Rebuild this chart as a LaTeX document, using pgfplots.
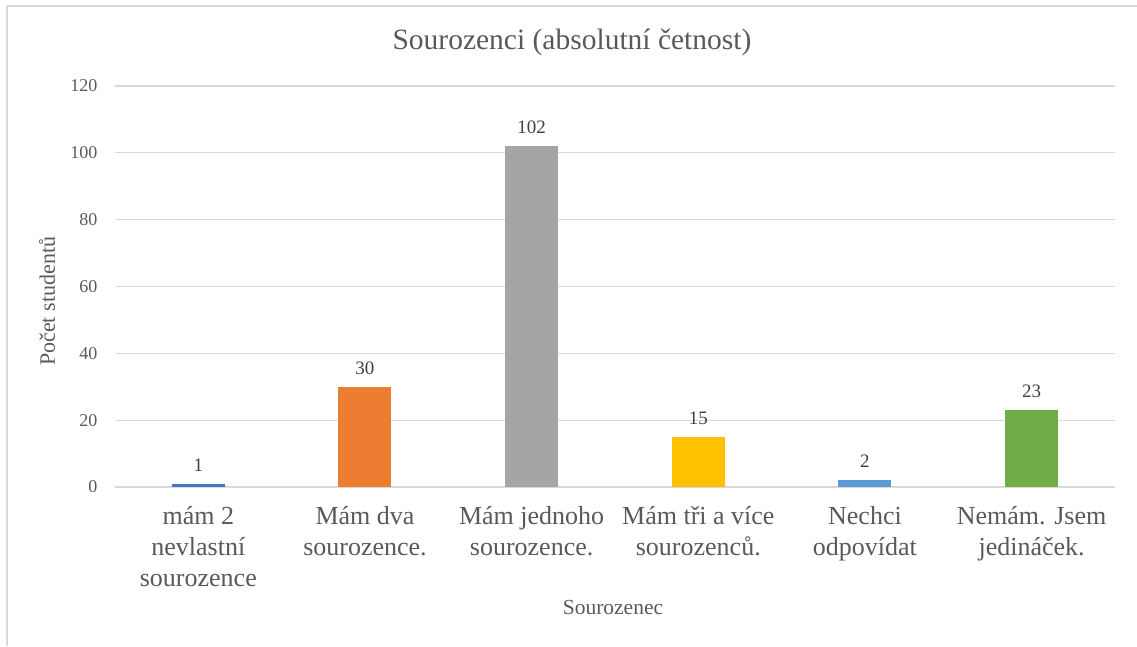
\documentclass[border=0pt]{standalone}
\usepackage{fontspec}
\setmainfont{Liberation Serif}
\usepackage{pgfplots}
\pgfplotsset{compat=1.18}
\definecolor{txt}{HTML}{595959}
\definecolor{gridc}{HTML}{D9D9D9}
\definecolor{c1}{HTML}{4472C4}
\definecolor{c2}{HTML}{ED7D31}
\definecolor{c3}{HTML}{A5A5A5}
\definecolor{c4}{HTML}{FFC000}
\definecolor{c5}{HTML}{5B9BD5}
\definecolor{c6}{HTML}{70AD47}
\begin{document}
\begin{tikzpicture}[x=1pt,y=1pt]
\useasboundingbox (0,0) rectangle (1137,646);
\draw[gridc, line width=1.5pt] (7,0) -- (7,640) -- (1137,640);
\begin{axis}[
  at={(115pt,159pt)}, anchor=south west,
  width=1000pt, height=401pt, scale only axis,
  xmin=-0.5, xmax=5.5, ymin=0, ymax=120,
  ybar, bar width=53pt, bar shift=0pt,
  axis line style={draw=none},
  ytick={0,20,...,120},
  ytick style={draw=none}, xtick style={draw=none},
  ymajorgrids, xmajorgrids=false, grid style={draw=gridc, line width=1.3pt},
  /pgf/number format/assume math mode=true,
  yticklabel style={font=\fontsize{18}{18}\selectfont, text=txt, xshift=-14pt},
  xtick={0,1,2,3,4,5},
  xticklabels={{mám 2\\nevlastní\\sourozence},{Mám dva\\sourozence.},{Mám jednoho\\sourozence.},{Mám tři a více\\sourozenců.},{Nechci\\odpovídat},{Nemám. Jsem\\jedináček.}},
  xticklabel style={font=\fontsize{26}{31}\selectfont, text=txt, align=center, yshift=-12pt},
  title={Sourozenci (absolutní četnost)},
  title style={at={(axis description cs:0.457,1.095)}, anchor=center, font=\fontsize{29.5}{29.5}\selectfont, text=txt},
  xlabel={Sourozenec},
  xlabel style={at={(axis description cs:0.498,-0.30)}, anchor=center, font=\fontsize{21.5}{21.5}\selectfont, text=txt},
  ylabel={Počet studentů},
  ylabel style={at={(axis description cs:-0.068,0.463)}, anchor=center, font=\fontsize{22}{22}\selectfont, text=txt},
  nodes near coords,
  every node near coord/.append style={font=\fontsize{19}{19}\selectfont, text=black!75, yshift=9pt},
]
\addplot[fill=c1, draw=none] coordinates {(0,1)};
\addplot[fill=c2, draw=none] coordinates {(1,30)};
\addplot[fill=c3, draw=none] coordinates {(2,102)};
\addplot[fill=c4, draw=none] coordinates {(3,15)};
\addplot[fill=c5, draw=none] coordinates {(4,2)};
\addplot[fill=c6, draw=none] coordinates {(5,23)};
\end{axis}
\end{tikzpicture}
\end{document}
